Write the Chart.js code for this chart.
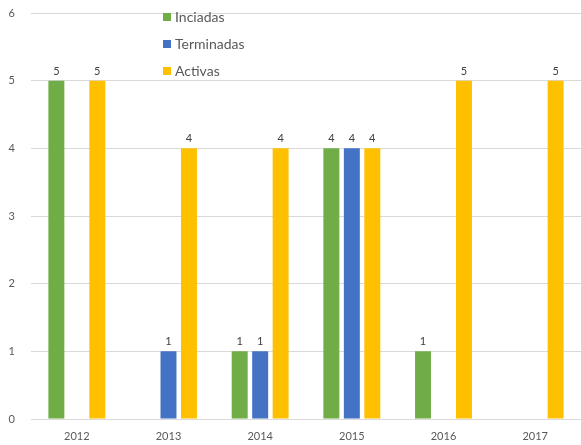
<!DOCTYPE html>
<html>
<head>
<meta charset="utf-8">
<script src="https://cdn.jsdelivr.net/npm/chart.js@4/dist/chart.umd.min.js"></script>
<style>
  html, body { margin: 0; padding: 0; background: #fff; }
  #wrap { width: 581px; height: 445px; position: relative; }
</style>
</head>
<body>
<div id="wrap"><canvas id="cvs"></canvas></div>
<script>
// --- данные ---
const years = ['2012', '2013', '2014', '2015', '2016', '2017'];
const iniciadas = [5, null, 1, 4, 1, null];
const terminadas = [null, 1, 1, 4, null, null];
const activas = [5, 4, 4, 4, 5, 5];
const yTicks = [0, 1, 2, 3, 4, 5, 6];

const FONT = 'Lato, "Open Sans", sans-serif';
const GRAY = '#595959';

// подписи значений над столбиками
const valueLabels = {
  id: 'valueLabels',
  afterDatasetsDraw(chart) {
    const ctx = chart.ctx;
    ctx.save();
    ctx.font = '11px ' + FONT;
    ctx.fillStyle = '#404040';
    ctx.textAlign = 'center';
    ctx.textBaseline = 'bottom';
    chart.data.datasets.forEach((ds, i) => {
      chart.getDatasetMeta(i).data.forEach((bar, j) => {
        const v = ds.data[j];
        if (v == null) return;
        ctx.fillText(String(v), bar.x, bar.y - 4);
      });
    });
    ctx.restore();
  },
};

// вертикальная легенда поверх графика
const sideLegend = {
  id: 'sideLegend',
  afterDraw(chart) {
    const ctx = chart.ctx;
    ctx.save();
    ctx.font = '14px ' + FONT;
    ctx.textBaseline = 'middle';
    chart.data.datasets.forEach((ds, i) => {
      const y = 17 + i * 27;
      ctx.fillStyle = ds.backgroundColor;
      ctx.fillRect(163, y - 4, 8, 8);
      ctx.fillStyle = GRAY;
      ctx.fillText(ds.label, 175, y);
    });
    ctx.restore();
  },
};

new Chart(document.getElementById('cvs'), {
  type: 'bar',
  data: {
    labels: years,
    datasets: [
      { label: 'Inciadas', data: iniciadas, backgroundColor: '#70AD47' },
      { label: 'Terminadas', data: terminadas, backgroundColor: '#4472C4' },
      { label: 'Activas', data: activas, backgroundColor: '#FFC000' },
    ],
  },
  options: {
    responsive: true, maintainAspectRatio: false, animation: false,
    layout: { padding: { top: 13, right: 0, bottom: 0, left: 0 } },
    datasets: { bar: { categoryPercentage: 0.67, barPercentage: 0.78 } },
    plugins: { legend: { display: false }, tooltip: { enabled: false } },
    scales: {
      x: {
        grid: { display: false, drawTicks: false }, border: { display: false },
        afterFit: (axis) => { axis.height = 26; },
        ticks: { color: GRAY, font: { family: FONT, size: 11 }, padding: 11 },
      },
      y: {
        min: 0, max: 6,
        afterBuildTicks: (axis) => { axis.ticks = yTicks.map(v => ({ value: v })); },
        afterFit: (axis) => { axis.width = 31; axis.paddingTop = 0; axis.paddingBottom = 0; },
        grid: { color: '#d9d9d9', drawTicks: false }, border: { display: false },
        ticks: { color: GRAY, font: { family: FONT, size: 11 }, padding: 16 },
      },
    },
  },
  plugins: [valueLabels, sideLegend],
});
</script>
</body>
</html>
